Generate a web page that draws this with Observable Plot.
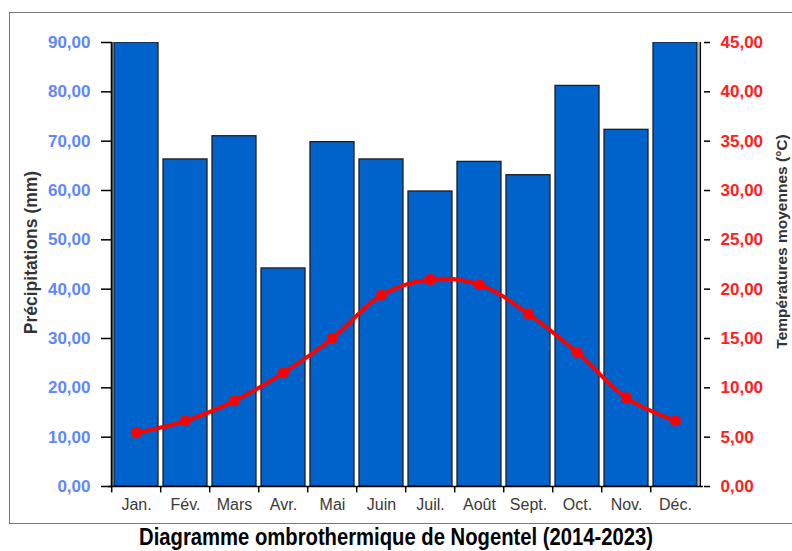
<!DOCTYPE html>
<html>
<head>
<meta charset="utf-8">
<script src="https://cdn.jsdelivr.net/npm/d3@7"></script>
<script src="https://cdn.jsdelivr.net/npm/@observablehq/plot@0.6"></script>
<style>
  html, body { margin: 0; padding: 0; background: #fff; width: 792px; height: 551px; overflow: hidden; }
  #wrap { position: relative; width: 792px; height: 551px; }
  #box { position: absolute; left: 9px; top: 12px; width: 800px; height: 512px; border: 1px solid #777; box-sizing: border-box; }
  #chart { position: absolute; left: 0; top: 0; }
  #title { position: absolute; left: 0; width: 792px; top: 525px; text-align: center;
           font-family: "Liberation Sans", Arial, sans-serif;
           font-weight: bold; font-size: 23px; color: #000; line-height: 25px; }
  #title span { display: inline-block; transform: scaleX(0.88); transform-origin: center; white-space: nowrap; }
</style>
</head>
<body>
<div id="wrap">
  <div id="box"></div>
  <div id="chart"></div>
  <div id="title"><span>Diagramme ombrothermique de Nogentel (2014-2023)</span></div>
</div>
<script>
const months = ["Jan.", "Fév.", "Mars", "Avr.", "Mai", "Juin", "Juil.", "Août", "Sept.", "Oct.", "Nov.", "Déc."];
const precipitation = [90, 66.3, 71.0, 44.2, 69.8, 66.3, 59.8, 65.8, 63.1, 81.2, 72.3, 90];
const temperature = [5.44, 6.66, 8.68, 11.52, 15.03, 19.39, 20.98, 20.47, 17.5, 13.55, 8.99, 6.66];
const precipTicks = [0, 10, 20, 30, 40, 50, 60, 70, 80, 90];
const tempTicks = [0, 5, 10, 15, 20, 25, 30, 35, 40, 45];
const precipLabel = "Précipitations (mm)";
const tempLabel = "Températures moyennes (°C)";

const data = months.map((m, i) => ({month: m, precip: precipitation[i], temp: temperature[i]}));
const ratio = 90 / 45; // right axis (°C) mapped onto left axis (mm)
const fmt = v => d3.format(".2f")(v).replace(".", ",");

const W = 792, H = 525;
const mL = 108, mR = 89, mT = 42, mB = 39;
const step = (W - mL - mR) / months.length;

const chart = Plot.plot({
  width: W,
  height: H,
  marginLeft: mL,
  marginRight: mR,
  marginTop: mT,
  marginBottom: mB,
  style: {fontFamily: "'Liberation Sans', Arial, sans-serif", fontSize: "16px", background: "transparent", overflow: "visible"},
  x: {domain: months, paddingInner: 0.1, paddingOuter: 0.05, label: null},
  y: {domain: [0, 90], label: null},
  marks: [
    Plot.barY(data, {x: "month", y: "precip", fill: "#0063cc", stroke: "#1e1e1e", strokeWidth: 1.3, clip: true}),
    // axis lines
    Plot.ruleY([0], {stroke: "#000", strokeWidth: 1.5}),
    Plot.ruleX([months[0]], {y1: 0, y2: 90, dx: -step / 2, stroke: "#000", strokeWidth: 2}),
    Plot.ruleX([months[months.length - 1]], {y1: 0, y2: 90, dx: step / 2 - 2, stroke: "#999", strokeWidth: 1}),
    Plot.ruleX([months[months.length - 1]], {y1: 0, y2: 90, dx: step / 2, stroke: "#000", strokeWidth: 1.5}),
    // category boundary ticks on x axis
    Plot.ruleX(months, {y1: 0, y2: -1.3, dx: -step / 2, stroke: "#000", strokeWidth: 1.5}),
    // temperature curve
    Plot.line(data, {x: "month", y: d => d.temp * ratio, stroke: "#ff0000", strokeWidth: 4, curve: "catmull-rom"}),
    Plot.dot(data, {x: "month", y: d => d.temp * ratio, r: 5.5, fill: "#ff0000"}),
    // left axis
    Plot.axisY({anchor: "left", ticks: precipTicks, tickSize: 7, tickPadding: 11, tickFormat: fmt,
                fill: "#5f87ff", stroke: "#000", strokeWidth: 1.5, fontWeight: "bold", fontSize: 17, label: null}),
    Plot.axisY({anchor: "left", ticks: precipTicks, tickSize: -4, tickFormat: () => "", stroke: "#000", strokeWidth: 1.5, label: null}),
    // right axis
    Plot.axisY({anchor: "right", ticks: tempTicks.map(t => t * ratio), tickSize: 6, tickPadding: 11,
                tickFormat: d => fmt(d / ratio), fill: "#ff2020", stroke: "#000", strokeWidth: 1.5,
                fontWeight: "bold", fontSize: 17, label: null}),
    // x axis
    Plot.axisX({tickSize: 0, tickPadding: 12, fill: "#3a3a3a", fontSize: 16, label: null}),
    // axis titles
    Plot.text([precipLabel], {frameAnchor: "left", rotate: -90, textAnchor: "middle", dx: -77, dy: -12,
                              fontWeight: "bold", fontSize: 17.5, fill: "#333"}),
    Plot.text([tempLabel], {frameAnchor: "right", rotate: -90, textAnchor: "middle", dx: 79, dy: -23,
                            fontWeight: "bold", fontSize: 15.5, fill: "#333"})
  ]
});
document.getElementById("chart").appendChild(chart);
</script>
</body>
</html>
